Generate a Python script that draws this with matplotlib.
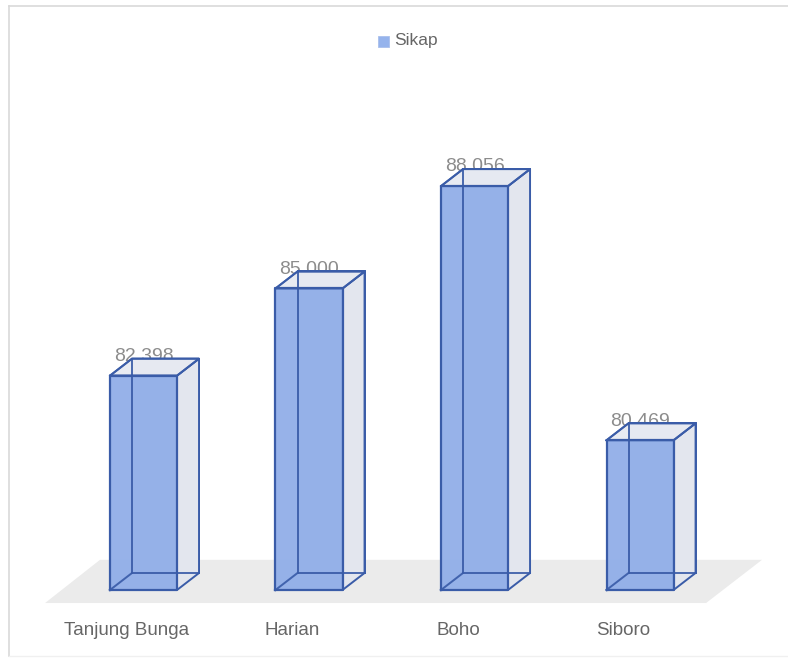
import matplotlib
matplotlib.use("Agg")
import matplotlib.pyplot as plt
from matplotlib.patches import Polygon, Rectangle
from matplotlib.lines import Line2D

categories = ["Tanjung Bunga", "Harian", "Boho", "Siboro"]
values = [82.398, 85.000, 88.056, 80.469]
labels = ["82.398", "85.000", "88.056", "80.469"]
series_name = "Sikap"

W, H = 788, 660
fig = plt.figure(figsize=(W / 100, H / 100), dpi=100)
ax = fig.add_axes([0, 0, 1, 1])
ax.set_xlim(-0.867, 3.894)
ax.set_ylim(73.91, 93.61)
ax.axis("off")

base = 76.0
bw = 0.405
dx = 0.133
dy = 0.507

edge = "#3a5ca8"
front_col = "#8eace8"
side_col = "#e3e6ee"
top_col = "#e6e9f1"
back_col = "#eceef3"

# floor
floor = Polygon([(-0.595, 75.61), (3.399, 75.61), (3.737, 76.90), (-0.263, 76.90)],
                closed=True, facecolor="#ebebeb", edgecolor="none", zorder=1)
ax.add_patch(floor)

for i, (v, lab) in enumerate(zip(values, labels)):
    x0 = i - bw / 2
    x1 = i + bw / 2
    # value label (behind bar lines)
    ax.text(i, v + 0.57, lab, ha="center", va="center", fontsize=14,
            color="#8c8c8c", family="Liberation Sans", zorder=2)
    # back face
    ax.add_patch(Polygon([(x0 + dx, base + dy), (x1 + dx, base + dy), (x1 + dx, v + dy), (x0 + dx, v + dy)],
                         closed=True, facecolor=back_col, edgecolor=edge, lw=1.4, zorder=3))
    ax.add_line(Line2D([x0, x0 + dx], [base, base + dy], color=edge, lw=1.4, zorder=4))
    # right side face
    ax.add_patch(Polygon([(x1, base), (x1 + dx, base + dy), (x1 + dx, v + dy), (x1, v)],
                         closed=True, facecolor=side_col, edgecolor=edge, lw=1.4, zorder=4))
    # top face
    ax.add_patch(Polygon([(x0, v), (x0 + dx, v + dy), (x1 + dx, v + dy), (x1, v)],
                         closed=True, facecolor=top_col, edgecolor=edge, lw=1.4, alpha=0.9, zorder=4))
    ax.add_line(Line2D([x0, x0 + dx, x1 + dx, x1, x0], [v, v + dy, v + dy, v, v],
                       color=edge, lw=1.4, zorder=6))
    # front face (translucent)
    ax.add_patch(Polygon([(x0, base), (x1, base), (x1, v), (x0, v)],
                         closed=True, facecolor=front_col, edgecolor="none", alpha=0.92, zorder=5))
    # hidden edges seen through front
    ax.add_line(Line2D([x0 + dx, x0 + dx], [base + dy, v + dy], color=edge, lw=1.4, zorder=5.5, alpha=0.9))
    ax.add_line(Line2D([x0 + dx, x1 + dx], [base + dy, base + dy], color=edge, lw=1.4, zorder=5.5, alpha=0.9))
    ax.add_line(Line2D([x0, x0 + dx], [base, base + dy], color=edge, lw=1.4, zorder=5.5, alpha=0.9))
    # front outline
    ax.add_line(Line2D([x0, x1, x1, x0, x0], [base, base, v, v, base], color=edge, lw=1.6, zorder=7))
    # category label
    ax.text(i - 0.1, 74.78, categories[i], ha="center", va="center", fontsize=13.5,
            color="#666666", family="Liberation Sans", zorder=8)

# legend
fig.patches.append(Rectangle((378 / W, 1 - 47 / H), 11 / W, 11 / H, transform=fig.transFigure,
                             facecolor="#95b3ec", edgecolor="#a9c0ec", lw=0.6))
fig.text(394 / W, 1 - 41 / H, series_name, ha="left", va="center", fontsize=12.5,
         color="#666666", family="Liberation Sans")

# chart border
fig.lines.append(Line2D([9 / W, 9 / W], [4 / H, 1 - 6 / H], transform=fig.transFigure, color="#d9d9d9", lw=1.2))
fig.lines.append(Line2D([9 / W, 1], [1 - 6 / H, 1 - 6 / H], transform=fig.transFigure, color="#d9d9d9", lw=1.2))
fig.lines.append(Line2D([9 / W, 1], [4 / H, 4 / H], transform=fig.transFigure, color="#f0f0f0", lw=1.0))

fig.savefig("out.png", dpi=100, facecolor="white")
